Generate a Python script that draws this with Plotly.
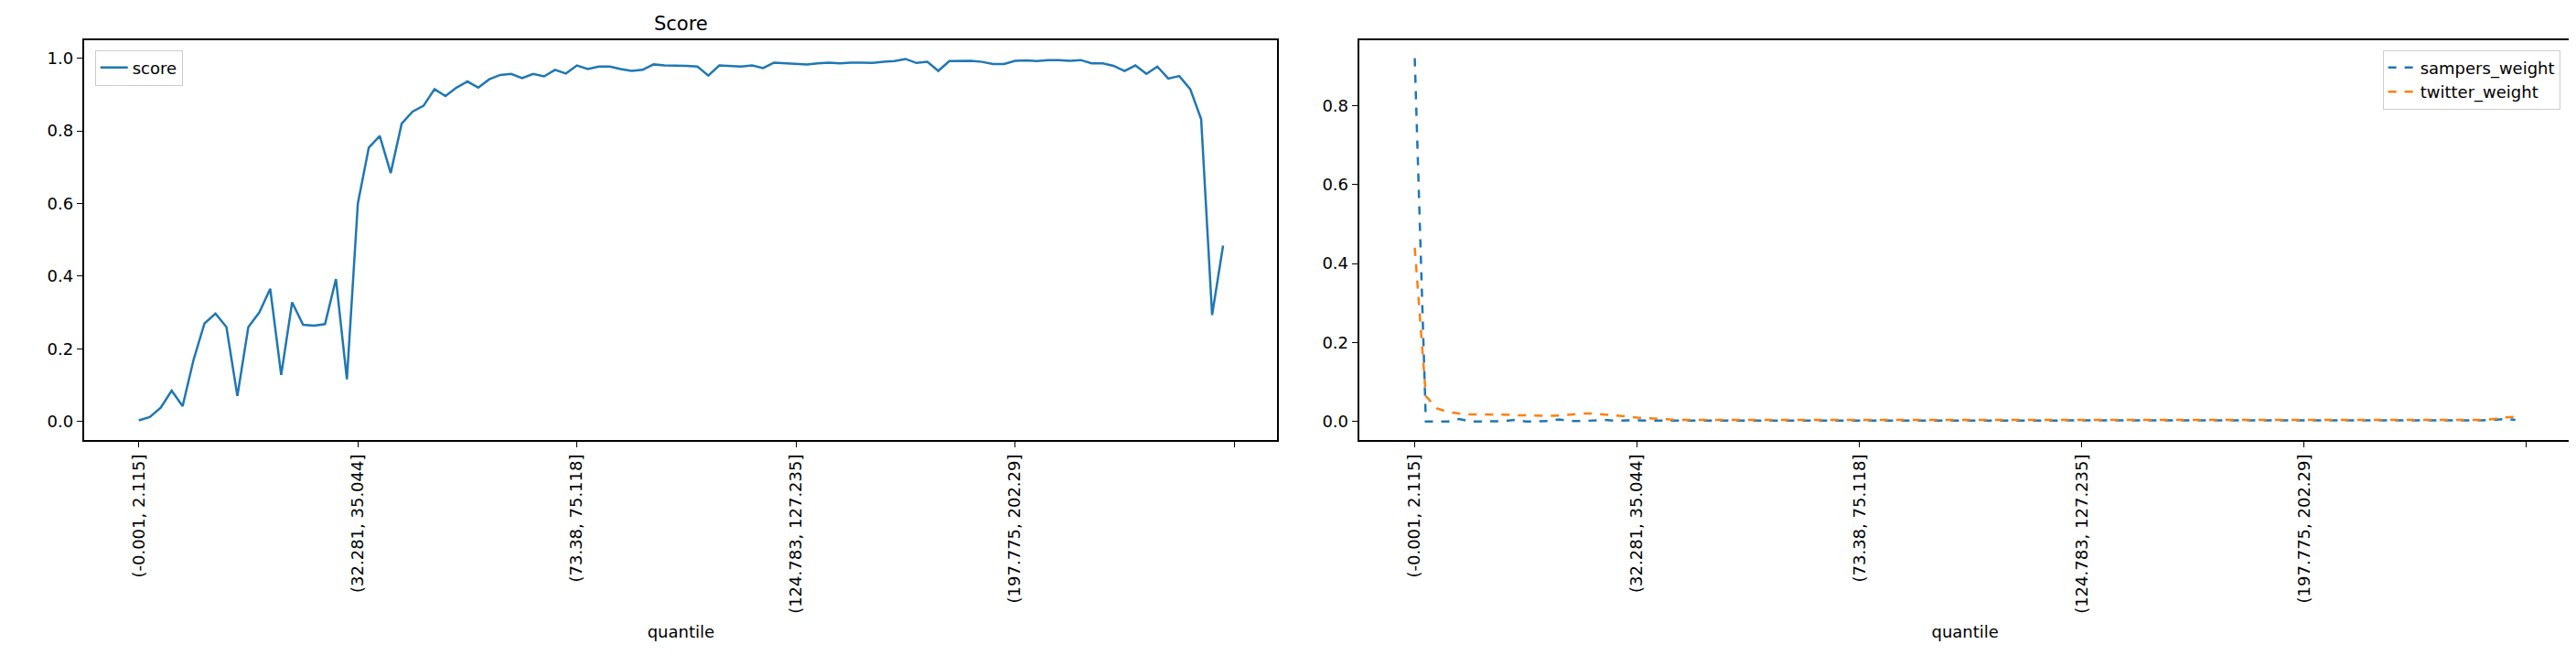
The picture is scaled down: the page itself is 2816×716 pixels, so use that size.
import plotly.graph_objects as go
from plotly.subplots import make_subplots

quantile_idx = list(range(100))
tick_pos = [0, 20, 40, 60, 80, 100]
tick_labels = ["(-0.001, 2.115]", "(32.281, 35.044]", "(73.38, 75.118]",
               "(124.783, 127.235]", "(197.775, 202.29]", ""]

score = [0.003, 0.012, 0.038, 0.085, 0.042, 0.17, 0.27, 0.297, 0.26, 0.07,
         0.26, 0.30, 0.365, 0.128, 0.328, 0.266, 0.264, 0.268, 0.392, 0.116,
         0.60, 0.754, 0.786, 0.684, 0.82, 0.853, 0.869, 0.915, 0.896, 0.919,
         0.936, 0.919, 0.942, 0.954, 0.957, 0.945, 0.957, 0.95, 0.968, 0.958,
         0.98, 0.97, 0.977, 0.977, 0.97, 0.965, 0.968, 0.983, 0.98, 0.98,
         0.979, 0.977, 0.952, 0.98, 0.978, 0.977, 0.98, 0.973, 0.988, 0.986,
         0.984, 0.983, 0.986, 0.988, 0.986, 0.988, 0.988, 0.987, 0.99, 0.992,
         0.998, 0.987, 0.99, 0.965, 0.992, 0.993, 0.993, 0.99, 0.984, 0.984,
         0.993, 0.994, 0.992, 0.995, 0.995, 0.993, 0.995, 0.986, 0.986, 0.979,
         0.965, 0.98, 0.957, 0.977, 0.944, 0.951, 0.915, 0.832, 0.293, 0.484]

sampers_weight = [0.92, 0.0, 0.0, 0.0, 0.006, 0.0, 0.0, 0.0, 0.001, 0.004,
                  0.0, 0.0, 0.001, 0.005, 0.001, 0.001, 0.002, 0.004, 0.002, 0.003,
                  0.003, 0.002, 0.002, 0.002, 0.002, 0.002, 0.002, 0.002, 0.002, 0.002] + \
                 [0.002] * 64 + [0.002, 0.002, 0.003, 0.004, 0.006, 0.004]

twitter_weight = [0.44, 0.064, 0.033, 0.024, 0.02, 0.018, 0.018, 0.018, 0.017, 0.016,
                  0.015, 0.014, 0.014, 0.015, 0.018, 0.02, 0.02, 0.018, 0.016, 0.013,
                  0.01, 0.008, 0.006, 0.005, 0.004, 0.004, 0.003, 0.003, 0.003, 0.003] + \
                 [0.003] * 64 + [0.003, 0.003, 0.004, 0.006, 0.01, 0.012]

blue = "#1f77b4"
orange = "#ff7f0e"

fig = make_subplots(rows=1, cols=2, horizontal_spacing=0.03)

fig.add_trace(go.Scatter(x=quantile_idx, y=score, mode="lines", name="score",
                         line=dict(color=blue, width=2.5), legend="legend",
                         showlegend=True), row=1, col=1)
fig.add_trace(go.Scatter(x=quantile_idx, y=sampers_weight, mode="lines", name="sampers_weight",
                         line=dict(color=blue, width=2.5, dash="dash"), legend="legend2"), row=1, col=2)
fig.add_trace(go.Scatter(x=quantile_idx, y=twitter_weight, mode="lines", name="twitter_weight",
                         line=dict(color=orange, width=2.5, dash="dash"), legend="legend2"), row=1, col=2)

axis_style = dict(showline=True, linecolor="black", linewidth=1.5, mirror=True,
                  ticks="outside", ticklen=7, tickcolor="black", showgrid=False,
                  zeroline=False, tickfont=dict(size=18, color="black"))

for col, dom in [(1, [0.030, 0.493]), (2, [0.525, 0.995])]:
    fig.update_xaxes(axis_style, domain=dom, range=[-4.95, 103.95], tickvals=tick_pos,
                     ticktext=tick_labels, tickangle=-90,
                     title=dict(text="quantile", font=dict(size=18, color="black")),
                     row=1, col=col)

fig.update_yaxes(axis_style, domain=[0.34, 0.95], range=[-0.05, 1.05],
                 tickvals=[0, 0.2, 0.4, 0.6, 0.8, 1.0], tickformat=".1f", row=1, col=1)
fig.update_yaxes(axis_style, domain=[0.34, 0.95], range=[-0.046, 0.966],
                 tickvals=[0, 0.2, 0.4, 0.6, 0.8], tickformat=".1f", row=1, col=2)

fig.update_layout(
    width=2816, height=716,
    margin=dict(l=0, r=0, t=0, b=0),
    showlegend=True,
    plot_bgcolor="white", paper_bgcolor="white",
    font=dict(family="DejaVu Sans", color="black"),
    title=dict(text="Score", x=0.2615, xanchor="center", y=0.975, yanchor="middle",
               font=dict(size=21, color="black")),
    legend=dict(x=0.034, y=0.935, xanchor="left", yanchor="top", bgcolor="white",
                bordercolor="#cccccc", borderwidth=1, font=dict(size=18)),
    legend2=dict(x=0.991, y=0.935, xanchor="right", yanchor="top", bgcolor="white",
                 bordercolor="#cccccc", borderwidth=1, font=dict(size=18)),
)

fig.write_html("out.html")
